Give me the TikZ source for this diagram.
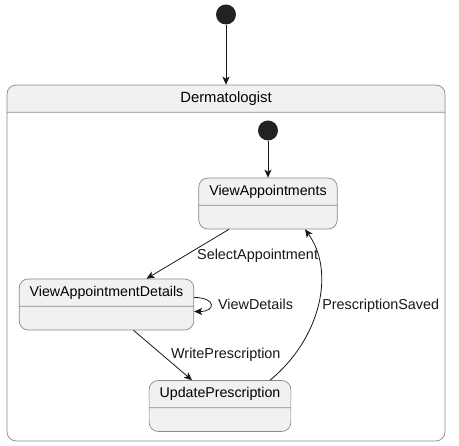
\documentclass[tikz,border=0pt]{standalone}
\usepackage{fontspec}
\setmainfont{Liberation Sans}
\usetikzlibrary{positioning,arrows.meta,shapes.multipart}
\definecolor{statefill}{HTML}{F1F1F1}
\definecolor{stateline}{HTML}{8A8A8A}
\definecolor{ink}{HTML}{181818}
\definecolor{dot}{HTML}{222222}

\begin{document}
\begin{tikzpicture}[x=1pt,y=-1pt,
    state/.style={rectangle split,rectangle split parts=2,draw=stateline,fill=statefill,
      rounded corners=9pt,line width=0.7pt,font=\fontsize{14.2}{17}\selectfont,
      inner xsep=10.5pt,inner ysep=7pt,text height=9.8pt,text depth=2.7pt,
      rectangle split empty part height=9pt,rectangle split empty part depth=0pt},
    cluster/.style={state,minimum width=438pt,rectangle split empty part height=314pt,
      font=\fontsize{14.8}{17}\selectfont,fill=none,rectangle split part fill={statefill,white}},
    initial/.style={circle,fill=dot,minimum size=20pt,inner sep=0pt},
    arr/.style={draw=ink,line width=0.8pt,-{Stealth[length=8pt,width=7pt,inset=2pt]}},
    lbl/.style={font=\fontsize{14.4}{17}\selectfont,inner sep=0pt,text=ink},
    node distance=37pt
  ]
    \useasboundingbox (0,0) rectangle (459,446);
    \node[cluster] (derm) at (226,263) {Dermatologist};
    \node[initial,above=60pt of derm] (start) {};
    \node[state] (viewappts) at (268,203.5) {ViewAppointments};
    \node[initial,above=of viewappts] (inner) {};
    \node[state] (details) at (106.5,304.5) {ViewAppointmentDetails};
    \node[state] (update) at (220,406) {UpdatePrescription};
    \draw[arr] (start) -- (derm);
    \draw[arr] (inner) -- (viewappts);
    \draw[arr] ([xshift=-39pt]viewappts.south) -- ([xshift=40pt]details.north)
      node[lbl,midway,right=9pt,yshift=-2pt] {SelectAppointment};
    \draw[arr] ([yshift=7pt]details.east) .. controls +(22,0) and +(22,0) .. ([yshift=-7pt]details.east)
      node[lbl,midway,right=7pt] {ViewDetails};
    \draw[arr] ([xshift=27pt]details.south) -- ([xshift=-28pt]update.north)
      node[lbl,midway,right=8pt] {WritePrescription};
    \draw[arr] ([xshift=50pt]update.north) .. controls +(50,-41) and +(31,43) .. ([xshift=37pt]viewappts.south)
      node[lbl,pos=0.5,right=4pt] {PrescriptionSaved};
  \end{tikzpicture}
\end{document}
